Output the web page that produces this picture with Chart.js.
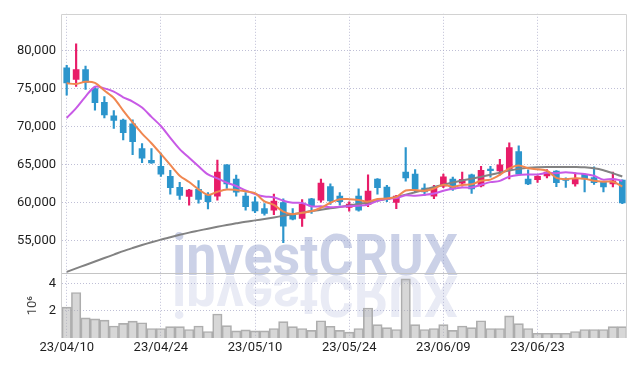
<!DOCTYPE html>
<html><head><meta charset="utf-8">
<script src="https://cdn.jsdelivr.net/npm/chart.js@4.4.0/dist/chart.umd.min.js"></script>
<style>html,body{margin:0;padding:0;background:#fff;}#wrap{width:635px;height:366px;}</style>
</head><body><div id="wrap"><canvas id="c" width="635" height="366"></canvas></div>
<script>
const dates = ["23/04/10","23/04/11","23/04/12","23/04/13","23/04/14","23/04/17","23/04/18","23/04/19","23/04/20","23/04/21",
"23/04/24","23/04/25","23/04/26","23/04/27","23/04/28","23/05/02","23/05/03","23/05/04","23/05/08","23/05/09",
"23/05/10","23/05/11","23/05/12","23/05/15","23/05/16","23/05/17","23/05/18","23/05/19","23/05/22","23/05/23",
"23/05/24","23/05/25","23/05/26","23/05/30","23/05/31","23/06/01","23/06/02","23/06/05","23/06/07","23/06/08",
"23/06/09","23/06/12","23/06/13","23/06/14","23/06/15","23/06/16","23/06/19","23/06/20","23/06/21","23/06/22",
"23/06/23","23/06/26","23/06/27","23/06/28","23/06/29","23/06/30","23/07/03","23/07/04","23/07/05","23/07/06"];
const opens = [77750,76200,77500,75000,73200,71400,70850,70350,67100,65550,
64750,63450,62000,60800,61750,61000,60850,64950,63100,60850,
60100,59200,59000,60000,58350,57900,60500,60300,62100,60850,
59350,60850,59750,63100,62050,60000,64000,63750,61900,60850,
62150,63100,62550,63650,62200,64400,64150,64400,66700,63100,
63000,63500,64150,63100,62450,63700,63300,62700,62450,62950];
const highs = [78050,80900,77950,75250,73950,72100,71000,70900,67750,67100,
66500,64250,62650,61750,62900,61300,65600,65000,63600,61300,
60750,59850,61100,60500,59200,60400,60550,63100,62450,61300,
60100,61800,63650,63150,62250,60950,67250,64350,62450,62250,
63750,63350,64000,63750,64750,64750,65700,67850,67450,64300,
63550,64350,64200,63250,63900,63750,64700,62750,64000,63000];
const lows = [74150,75300,74900,72150,71150,69750,68250,66300,65250,65150,
63450,61100,60400,59650,59900,59150,60300,61850,60850,59000,
58650,58350,58400,54700,57700,56850,58550,60050,59750,59650,
58850,58850,59450,61100,60100,59200,62800,61400,60950,60500,
61950,61600,62150,61200,62050,63350,63650,63100,63700,62350,
62650,63250,62100,62000,62150,61400,62400,61400,62050,59850];
const closes = [75750,77500,75800,73150,71550,70800,69200,68000,65850,65200,
63750,61950,60950,61650,60400,60100,64000,62450,61350,59450,
58900,58550,60200,56900,57800,59750,59550,62550,60200,60100,
59800,59000,61500,61950,60400,60850,63250,61750,61400,61950,
63400,61800,63050,61800,64250,64200,64950,67250,63750,62450,
63450,64000,62600,62900,63100,63100,62600,62050,62850,59950];
const volumes = [2290000,3370000,1490000,1420000,1320000,890000,1080000,1250000,1130000,700000,
700000,840000,840000,630000,890000,480000,1780000,920000,530000,600000,
530000,530000,700000,1210000,840000,700000,560000,1280000,870000,560000,
430000,700000,2220000,990000,770000,630000,4380000,990000,630000,700000,
990000,560000,890000,770000,1280000,700000,700000,1640000,1060000,700000,
350000,350000,350000,350000,480000,630000,630000,630000,840000,840000];
const ma5 = [75700,75600,75900,75750,74750,73760,72100,70540,69080,67810,
66400,64950,63540,62700,61740,61010,61420,61720,61660,61470,
61230,60140,59690,58800,58470,58640,58840,59310,59970,60430,
60440,60330,60120,60470,60530,60740,61590,61640,61530,61840,
62350,62060,62320,62400,62860,63020,63650,64490,64880,64520,
64370,64180,63250,63080,63210,63140,62860,62750,62740,62110];
const ma10 = [71130,72430,73950,75250,75030,74600,73860,73300,72500,71280,
70080,68525,67040,65890,64775,63705,63185,62630,62180,61605,
61120,60780,60705,60230,59970,59935,59490,59500,59385,59450,
59540,59585,59715,60220,60480,60590,60960,60880,61000,61185,
61545,61825,61980,61965,62350,62685,62855,63405,63640,63690,
63695,63915,63870,63980,63865,63755,63520,63000,63110,62860];
const ma60 = [50870,51330,51780,52230,52690,53140,53600,54010,54400,54770,
55120,55440,55750,56040,56300,56560,56810,57040,57260,57470,
57650,57840,58040,58250,58460,58660,58870,59050,59230,59420,
59610,59810,60010,60220,60480,60740,61040,61360,61700,62040,
62350,62640,62900,63130,63380,63650,63940,64210,64430,64580,
64660,64690,64690,64690,64680,64640,64510,64250,63860,63430];
const priceTicks = [55000,60000,65000,70000,75000,80000];
const volumeTicks = [0,2000000,4000000];
const dateTickEvery = 10;

const UP = 'rgb(232,28,104)', DOWN = 'rgb(44,149,204)';
const candleColors = closes.map((c,i)=> c >= opens[i] ? UP : DOWN);
const GRID = 'rgba(170,170,200,0.75)';
const FONT = 'Roboto, "DejaVu Sans", sans-serif';

const decor = {
  id:'decor',
  beforeDatasetsDraw(chart){
    const ctx = chart.ctx;
    ctx.save();
    ctx.font = 'bold 58px ' + FONT;
    ctx.textBaseline = 'alphabetic';
    const t = 'investCRUX';
    const w = ctx.measureText(t).width;
    ctx.translate(172, 275);
    ctx.scale(286 / w, 1);
    ctx.fillStyle = 'rgba(145,157,205,0.47)';
    ctx.fillText(t, 0, 0);
    ctx.scale(1, -1);
    ctx.fillStyle = 'rgba(145,157,205,0.2)';
    ctx.fillText(t, 0, -1);
    ctx.restore();
  },
  afterDatasetsDraw(chart){
    const {ctx, chartArea:a} = chart;
    const py = chart.scales.y;
    ctx.save();
    ctx.lineWidth = 1;
    ctx.strokeStyle = '#d2d2d2';
    ctx.beginPath();
    ctx.moveTo(Math.round(a.left)-0.5, Math.round(a.bottom));
    ctx.lineTo(Math.round(a.left)-0.5, Math.round(a.top)+0.5);
    ctx.lineTo(Math.round(a.right)-0.5, Math.round(a.top)+0.5);
    ctx.lineTo(Math.round(a.right)-0.5, Math.round(a.bottom));
    ctx.stroke();
    ctx.strokeStyle = '#c4c4c4';
    ctx.beginPath();
    ctx.moveTo(a.left, Math.round(py.bottom)+0.5);
    ctx.lineTo(a.right, Math.round(py.bottom)+0.5);
    ctx.stroke();
    ctx.restore();
  }
};

Chart.defaults.font.family = FONT;
Chart.defaults.font.size = 13;
Chart.defaults.color = '#222';

new Chart(document.getElementById('c'), {
  type:'bar',
  data:{
    labels: dates,
    datasets:[
      {type:'line', data:ma5, yAxisID:'y', borderColor:'rgb(240,135,80)', borderWidth:2, pointRadius:0, tension:0.3, order:0},
      {type:'line', data:ma10, yAxisID:'y', borderColor:'rgb(200,90,230)', borderWidth:2, pointRadius:0, tension:0.3, order:0},
      {type:'line', data:ma60, yAxisID:'y', borderColor:'rgb(130,130,130)', borderWidth:2, pointRadius:0, tension:0.3, order:0},
      {data: opens.map((o,i)=>[o, closes[i]]), yAxisID:'y', backgroundColor:candleColors, barThickness:6, grouped:false, order:1},
      {data: lows.map((l,i)=>[l, highs[i]]), yAxisID:'y', backgroundColor:candleColors, barThickness:1.5, grouped:false, order:2},
      {data: volumes, yAxisID:'yVol', backgroundColor:'rgba(175,175,175,0.5)', borderColor:'rgba(165,165,165,0.9)', borderWidth:1, categoryPercentage:1, barPercentage:1, grouped:false, order:3}
    ]
  },
  options:{
    responsive:false, animation:false, devicePixelRatio:1,
    layout:{padding:{left:12, right:8, top:9, bottom:8}},
    plugins:{legend:{display:false}, tooltip:{enabled:false}},
    events:[],
    scales:{
      x:{
        type:'category', offset:true,
        grid:{offset:false, color:GRID, drawTicks:false},
        border:{display:false, dash:[1,2]},
        ticks:{autoSkip:false, maxRotation:0, padding:2, color:'#1e1e1e',
          callback:(v,i)=> i % dateTickEvery === 0 ? dates[i] : null},
        afterFit(s){ s.height = 20; }
      },
      yVol:{
        type:'linear', position:'left', stack:'main', stackWeight:1, min:0, max:4800000,
        afterBuildTicks(s){ s.ticks = volumeTicks.map(v=>({value:v})); },
        ticks:{padding:6, color:'#1e1e1e', callback:v=> v === 0 ? null : String(v/1000000)},
        grid:{color:GRID, drawTicks:false},
        border:{display:false, dash:[1,2]},
        title:{display:true, text:'10⁶', color:'#444', font:{size:13}, padding:{top:13, bottom:0}},
        afterFit(s){ s.width = 50; }
      },
      y:{
        type:'linear', position:'left', stack:'main', stackWeight:4, min:50700, max:84850,
        afterBuildTicks(s){ s.ticks = priceTicks.map(v=>({value:v})); },
        ticks:{padding:6, color:'#1e1e1e', callback:v=> v.toLocaleString('en-US')},
        grid:{color:GRID, drawTicks:false},
        border:{display:false, dash:[1,2]},
        afterFit(s){ s.width = 50; }
      }
    }
  },
  plugins:[decor]
});
</script>
</body></html>
